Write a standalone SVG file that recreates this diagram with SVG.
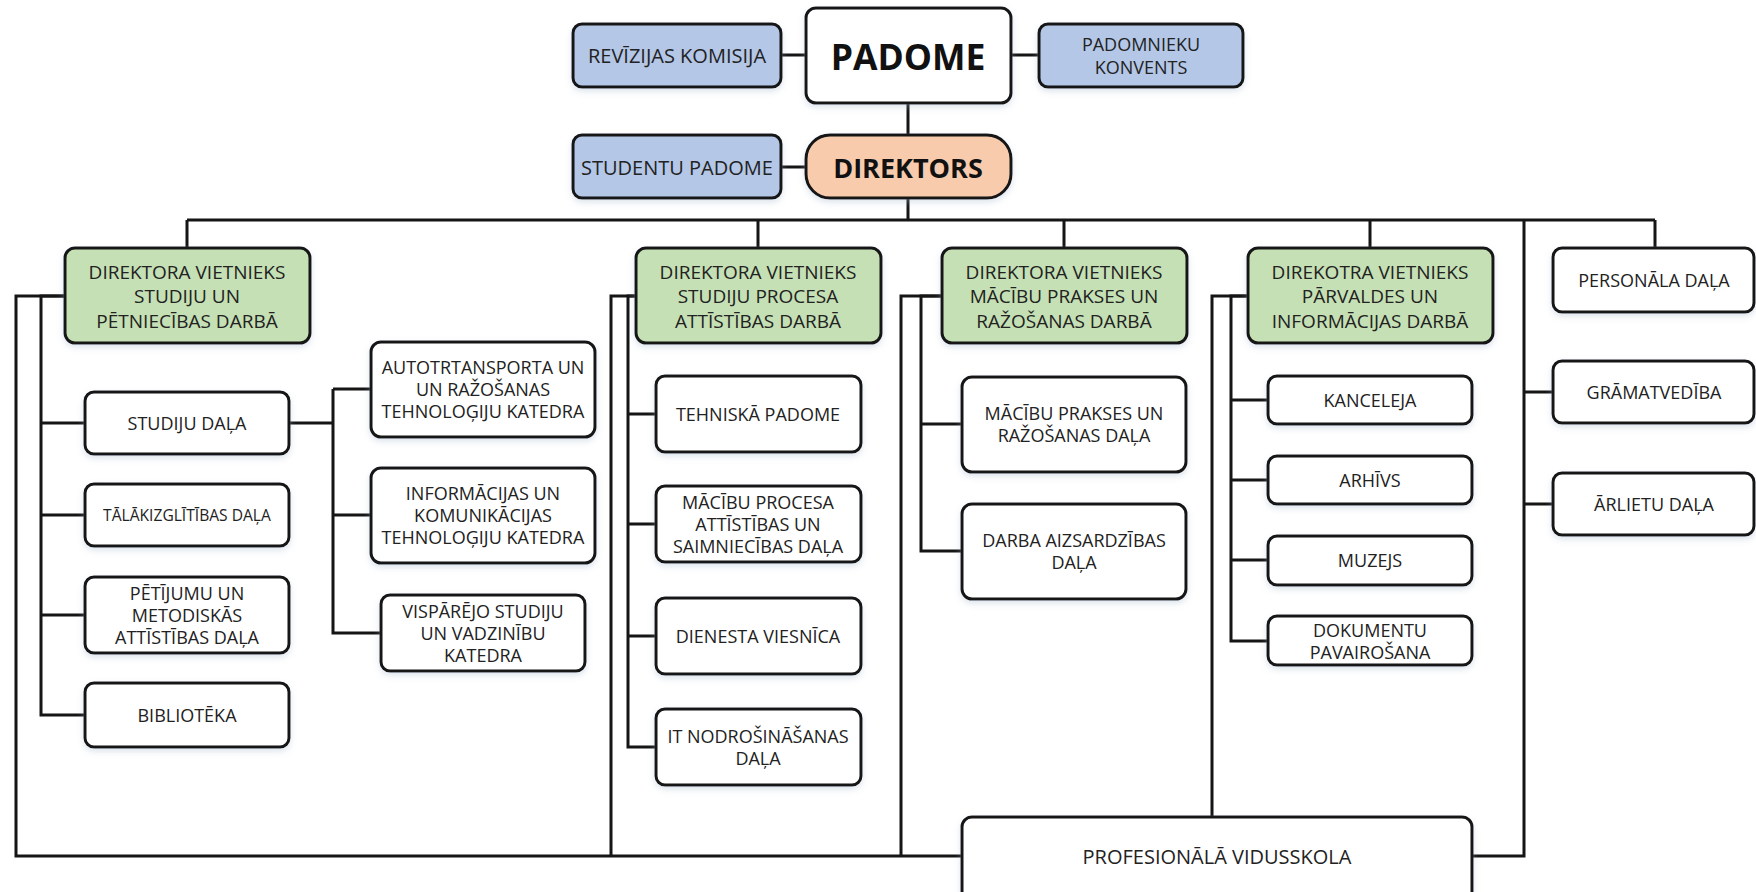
<svg xmlns="http://www.w3.org/2000/svg" width="1756" height="892" viewBox="0 0 1756 892">
<style>
.b{fill:#fff;stroke:#151515;stroke-width:3;filter:url(#sh)}
.blue{fill:#b4c7e7}
.green{fill:#c5e0b4}
.peach{fill:#f8cbad}
.c{fill:none;stroke:#151515;stroke-width:3;stroke-linejoin:miter}
text{font-family:"Open Sans","Noto Sans","Liberation Sans",sans-serif;font-size:18px;fill:#222;text-anchor:middle;dominant-baseline:central}
.dv{font-size:19px}
.l{font-size:20px}
.big{font-weight:bold;font-size:35.5px;fill:#111}
.dir{font-weight:bold;font-size:27px;fill:#111}
.sm{font-size:15.6px}
</style>
<defs>
<filter id="sh" x="-10%" y="-10%" width="120%" height="130%">
<feDropShadow dx="0" dy="3" stdDeviation="3" flood-color="#9fb4cc" flood-opacity="0.35"/>
</filter>
</defs>
<rect width="1756" height="892" fill="#fff"/>
<g id="connectors" class="c">
<path d="M781 55H806M1011 55H1039M908 103V135M781 167H806M908 199V220"/>
<path d="M187 220H1655M187 220V248M758 220V248M1064 220V248M1370 220V248M1655 220V248"/>
<path d="M65 296H16V856H962"/>
<path d="M65 296H41V715H85M41 423H85M41 515H85M41 615H85"/>
<path d="M289 423H333M333 389V633H381M333 389H371M333 515H371"/>
<path d="M636 296H611V856"/>
<path d="M636 296H628V747H656M628 414H656M628 524H656M628 636H656"/>
<path d="M942 296H901V856"/>
<path d="M942 296H921V551H962M921 424H962"/>
<path d="M1248 296H1212V817"/>
<path d="M1248 296H1231V641H1268M1231 400H1268M1231 480H1268M1231 560H1268"/>
<path d="M1524 220V856H1472M1524 392H1553M1524 504H1553"/>
</g>
<g id="revizijas"><rect class="b blue" x="573" y="24" width="208" height="63" rx="9"/><text class="l" x="677" y="55">REVĪZIJAS KOMISIJA</text></g>
<g id="padome"><rect class="b" x="806" y="8" width="205" height="95" rx="10"/><text class="big" x="908" y="56">PADOME</text></g>
<g id="padomnieku"><rect class="b blue" x="1039" y="24" width="204" height="63" rx="9"/><text x="1141" y="44">PADOMNIEKU</text><text x="1141" y="67">KONVENTS</text></g>
<g id="studentu"><rect class="b blue" x="573" y="135" width="208" height="63" rx="9"/><text class="l" x="677" y="167">STUDENTU PADOME</text></g>
<g id="direktors"><rect class="b peach" x="806" y="135" width="205" height="63" rx="24"/><text class="dir" x="908" y="167">DIREKTORS</text></g>
<g id="dv1"><rect class="b green" x="65" y="248" width="245" height="95" rx="10"/><text class="dv" x="187" y="271.5">DIREKTORA VIETNIEKS</text><text class="dv" x="187" y="296">STUDIJU UN</text><text class="dv" x="187" y="320.5">PĒTNIECĪBAS DARBĀ</text></g>
<g id="dv2"><rect class="b green" x="636" y="248" width="245" height="95" rx="10"/><text class="dv" x="758" y="271.5">DIREKTORA VIETNIEKS</text><text class="dv" x="758" y="296">STUDIJU PROCESA</text><text class="dv" x="758" y="320.5">ATTĪSTĪBAS DARBĀ</text></g>
<g id="dv3"><rect class="b green" x="942" y="248" width="245" height="95" rx="10"/><text class="dv" x="1064" y="271.5">DIREKTORA VIETNIEKS</text><text class="dv" x="1064" y="296">MĀCĪBU PRAKSES UN</text><text class="dv" x="1064" y="320.5">RAŽOŠANAS DARBĀ</text></g>
<g id="dv4"><rect class="b green" x="1248" y="248" width="245" height="95" rx="10"/><text class="dv" x="1370" y="271.5">DIREKOTRA VIETNIEKS</text><text class="dv" x="1370" y="296">PĀRVALDES UN</text><text class="dv" x="1370" y="320.5">INFORMĀCIJAS DARBĀ</text></g>
<g id="personala"><rect class="b" x="1553" y="248" width="201" height="64" rx="9"/><text x="1654" y="280">PERSONĀLA DAĻA</text></g>
<g id="gramatvediba"><rect class="b" x="1553" y="361" width="201" height="62" rx="9"/><text x="1654" y="392">GRĀMATVEDĪBA</text></g>
<g id="arlietu"><rect class="b" x="1553" y="473" width="201" height="62" rx="9"/><text x="1654" y="504">ĀRLIETU DAĻA</text></g>
<g id="studiju-dala"><rect class="b" x="85" y="392" width="204" height="62" rx="9"/><text x="187" y="423">STUDIJU DAĻA</text></g>
<g id="talakizglitibas"><rect class="b" x="85" y="484" width="204" height="62" rx="9"/><text class="sm" x="187" y="515">TĀLĀKIZGLĪTĪBAS DAĻA</text></g>
<g id="petijumu"><rect class="b" x="85" y="577" width="204" height="76" rx="9"/><text x="187" y="593">PĒTĪJUMU UN</text><text x="187" y="615">METODISKĀS</text><text x="187" y="637">ATTĪSTĪBAS DAĻA</text></g>
<g id="biblioteka"><rect class="b" x="85" y="683" width="204" height="64" rx="9"/><text x="187" y="715">BIBLIOTĒKA</text></g>
<g id="autotransporta"><rect class="b" x="371" y="342" width="224" height="95" rx="10"/><text x="483" y="367">AUTOTRTANSPORTA UN</text><text x="483" y="389">UN RAŽOŠANAS</text><text x="483" y="411">TEHNOLOĢIJU KATEDRA</text></g>
<g id="informacijas"><rect class="b" x="371" y="468" width="224" height="95" rx="10"/><text x="483" y="493">INFORMĀCIJAS UN</text><text x="483" y="515">KOMUNIKĀCIJAS</text><text x="483" y="537">TEHNOLOĢIJU KATEDRA</text></g>
<g id="visparejo"><rect class="b" x="381" y="595" width="204" height="76" rx="9"/><text x="483" y="611">VISPĀRĒJO STUDIJU</text><text x="483" y="633">UN VADZINĪBU</text><text x="483" y="655">KATEDRA</text></g>
<g id="tehniska"><rect class="b" x="656" y="376" width="205" height="76" rx="9"/><text x="758" y="414">TEHNISKĀ PADOME</text></g>
<g id="macibu-procesa"><rect class="b" x="656" y="486" width="205" height="76" rx="9"/><text x="758" y="502">MĀCĪBU PROCESA</text><text x="758" y="524">ATTĪSTĪBAS UN</text><text x="758" y="546">SAIMNIECĪBAS DAĻA</text></g>
<g id="dienesta"><rect class="b" x="656" y="598" width="205" height="76" rx="9"/><text x="758" y="636">DIENESTA VIESNĪCA</text></g>
<g id="it"><rect class="b" x="656" y="709" width="205" height="76" rx="9"/><text x="758" y="736">IT NODROŠINĀŠANAS</text><text x="758" y="758">DAĻA</text></g>
<g id="macibu-prakses"><rect class="b" x="962" y="377" width="224" height="95" rx="10"/><text x="1074" y="413">MĀCĪBU PRAKSES UN</text><text x="1074" y="435">RAŽOŠANAS DAĻA</text></g>
<g id="darba"><rect class="b" x="962" y="504" width="224" height="95" rx="10"/><text x="1074" y="540">DARBA AIZSARDZĪBAS</text><text x="1074" y="562">DAĻA</text></g>
<g id="kanceleja"><rect class="b" x="1268" y="376" width="204" height="48" rx="9"/><text x="1370" y="400">KANCELEJA</text></g>
<g id="arhivs"><rect class="b" x="1268" y="456" width="204" height="48" rx="9"/><text x="1370" y="480">ARHĪVS</text></g>
<g id="muzejs"><rect class="b" x="1268" y="536" width="204" height="49" rx="9"/><text x="1370" y="560">MUZEJS</text></g>
<g id="dokumentu"><rect class="b" x="1268" y="616" width="204" height="49" rx="9"/><text x="1370" y="630">DOKUMENTU</text><text x="1370" y="652">PAVAIROŠANA</text></g>
<g id="profesionala"><rect class="b" x="962" y="817" width="510" height="90" rx="10"/><text class="l" x="1217" y="856">PROFESIONĀLĀ VIDUSSKOLA</text></g>
</svg>
